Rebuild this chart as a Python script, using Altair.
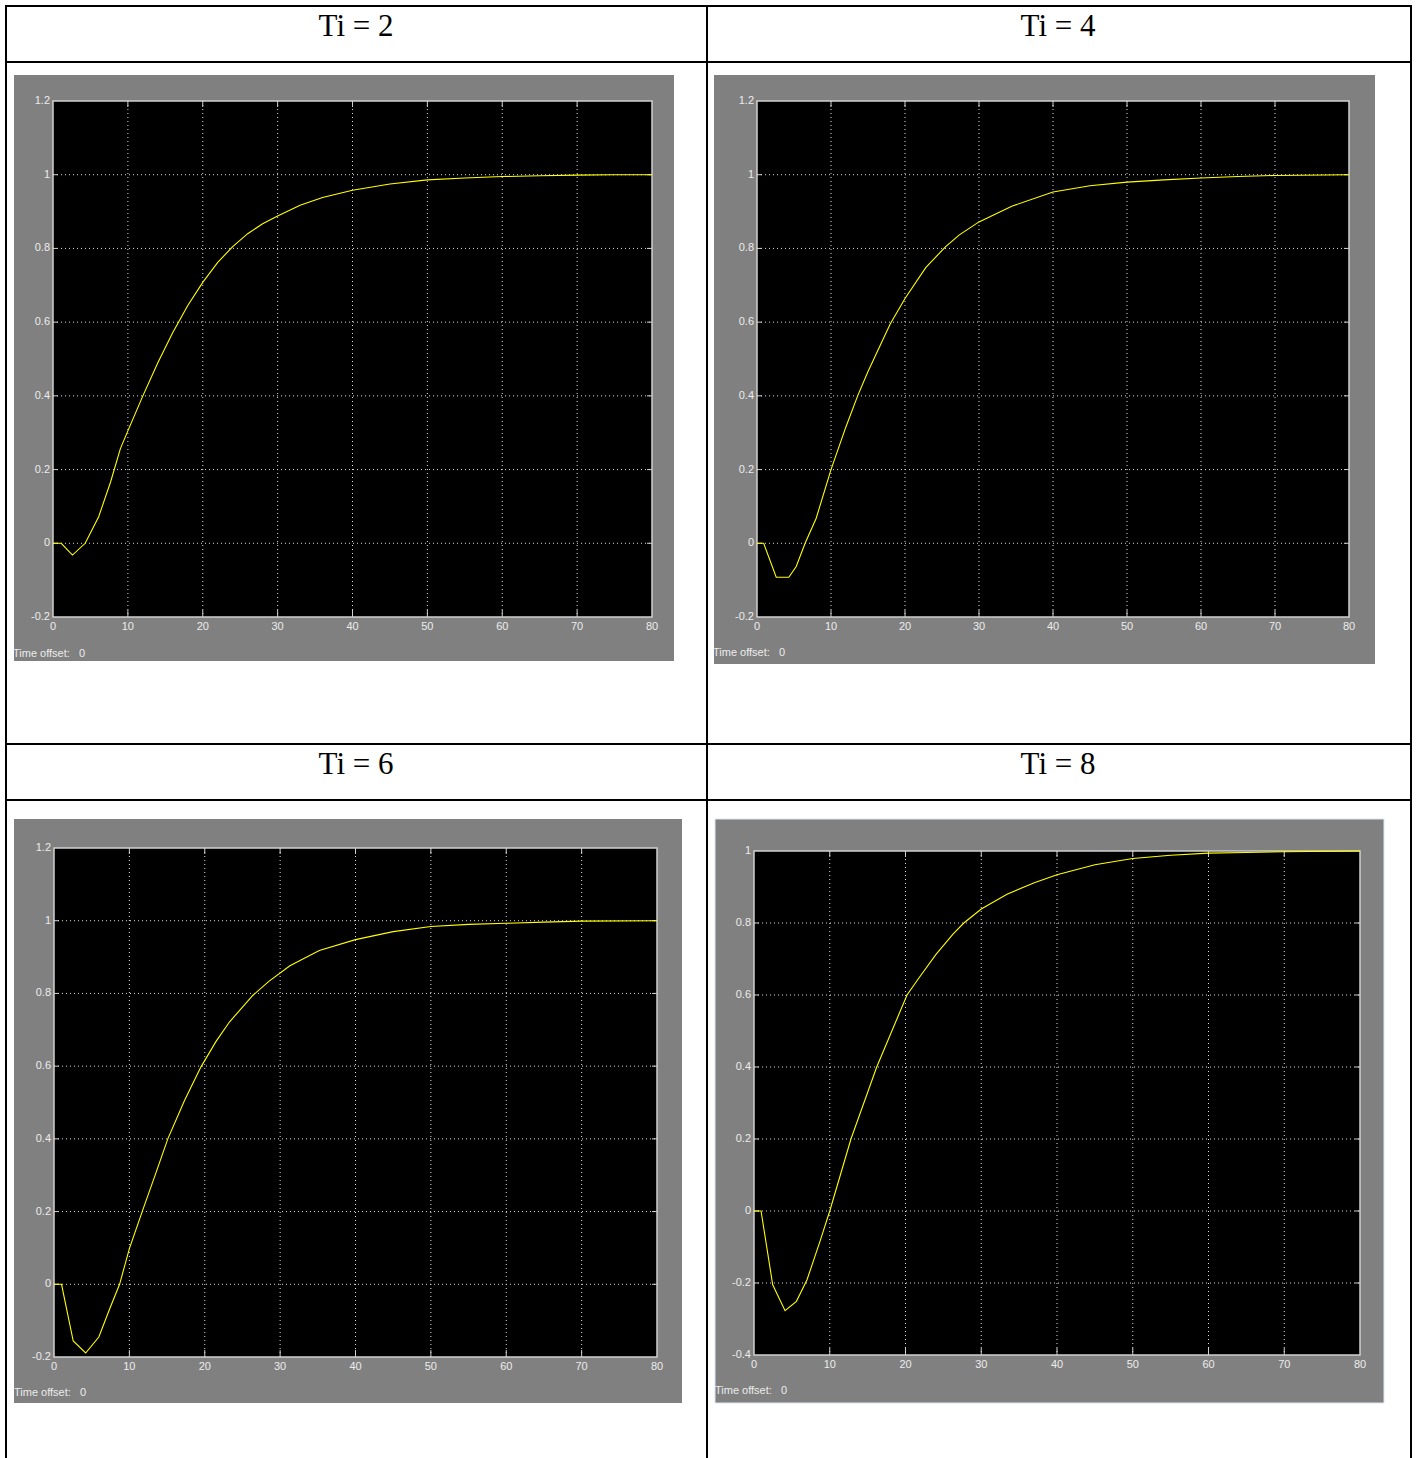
import altair as alt
import pandas as pd

# ---------------- data ----------------
titles = ["Ti = 2", "Ti = 4", "Ti = 6", "Ti = 8"]

t_ti2 = [0, 1.1, 2.6, 4.3, 6.1, 7.7, 9.0, 10, 12, 14, 16, 18, 20, 22, 24, 26, 28, 30, 33, 36, 40, 45, 50, 55, 60, 65, 70, 75, 80]
y_ti2 = [0, 0, -0.032, 0, 0.072, 0.167, 0.257, 0.305, 0.40, 0.49, 0.572, 0.645, 0.708, 0.762, 0.805, 0.84, 0.867, 0.888, 0.917, 0.938, 0.958, 0.975, 0.986, 0.991, 0.995, 0.997, 0.999, 1.0, 1.0]

t_ti4 = [0, 0.9, 2.6, 4.3, 5.3, 6.5, 8.0, 10, 12, 13.6, 15, 18, 20, 22.8, 25.5, 27.3, 30, 34.5, 40, 45, 50, 55, 60, 65, 70, 80]
y_ti4 = [0, 0, -0.092, -0.092, -0.063, 0, 0.068, 0.2, 0.315, 0.40, 0.466, 0.595, 0.664, 0.748, 0.805, 0.836, 0.872, 0.915, 0.953, 0.97, 0.98, 0.986, 0.991, 0.995, 0.998, 1.0]

t_ti6 = [0, 1.0, 2.55, 4.2, 5.95, 7.3, 8.7, 10, 11.7, 13.5, 15.1, 17.3, 19.5, 21.5, 23.3, 26.4, 28.5, 31.3, 35.2, 40, 45, 50, 55, 60, 65, 70, 80]
y_ti6 = [0, 0, -0.156, -0.189, -0.145, -0.072, 0, 0.098, 0.2, 0.305, 0.40, 0.505, 0.598, 0.668, 0.722, 0.795, 0.833, 0.876, 0.918, 0.948, 0.97, 0.984, 0.99, 0.993, 0.996, 0.999, 1.0]

t_ti8 = [0, 0.93, 2.47, 4.1, 5.6, 7.0, 8.7, 10, 12.8, 16.2, 20.2, 21.7, 24, 26.3, 27.7, 30, 33.4, 37, 40, 45, 50, 55, 60, 65, 70, 80]
y_ti8 = [0, 0, -0.205, -0.277, -0.251, -0.191, -0.085, 0, 0.2, 0.4, 0.6, 0.645, 0.712, 0.77, 0.80, 0.839, 0.88, 0.912, 0.934, 0.962, 0.979, 0.988, 0.994, 0.996, 0.998, 1.0]

x_ticks = [0, 10, 20, 30, 40, 50, 60, 70, 80]
x_tick_labels = ["0", "10", "20", "30", "40", "50", "60", "70", "80"]
y_ticks_a = [-0.2, 0, 0.2, 0.4, 0.6, 0.8, 1, 1.2]
y_tick_labels_a = ["-0.2", "0", "0.2", "0.4", "0.6", "0.8", "1", "1.2"]
y_ticks_b = [-0.4, -0.2, 0, 0.2, 0.4, 0.6, 0.8, 1]
y_tick_labels_b = ["-0.4", "-0.2", "0", "0.2", "0.4", "0.6", "0.8", "1"]
offset_label = "Time offset:\u00a0\u00a0\u00a00"

# ---------------- layout (pixels) ----------------
GRAY = "#808080"
LABEL = "#ececec"
GRID = "#dcdcdc"
FRAME = "#d0d0d0"
LFONT = "Liberation Sans"

one = pd.DataFrame({"k": [0]})


def fixed_rule(x0, x1, y0, y1, color="black", width=2):
    return alt.Chart(one).mark_rule(color=color, strokeWidth=width).encode(
        x=alt.value(x0), x2=alt.value(x1), y=alt.value(y0), y2=alt.value(y1)
    )


def panel(t, v, yt, ylabs, box, plot, ydom, off_xy, box_stroke=None):
    bx0, bx1, by0, by1 = box
    px0, px1, py0, py1 = plot
    xs = alt.Scale(domain=[0, 80], range=[px0, px1], nice=False, zero=False)
    ys = alt.Scale(domain=list(ydom), range=[py1, py0], nice=False, zero=False)

    rect_kw = dict(color=GRAY)
    if box_stroke:
        rect_kw.update(stroke=box_stroke, strokeWidth=1)
    gray = alt.Chart(one).mark_rect(**rect_kw).encode(
        x=alt.value(bx0), x2=alt.value(bx1), y=alt.value(by0), y2=alt.value(by1)
    )
    black = alt.Chart(one).mark_rect(color="black").encode(
        x=alt.value(px0), x2=alt.value(px1), y=alt.value(py0), y2=alt.value(py1)
    )

    xdf = pd.DataFrame({"t": x_ticks, "lab": x_tick_labels})
    ydf = pd.DataFrame({"v": yt, "lab": ylabs})
    xin = xdf.iloc[1:-1]
    yin = ydf.iloc[1:-1]

    X = alt.X("t:Q", scale=xs, axis=None)
    Y = alt.Y("v:Q", scale=ys, axis=None)

    vgrid = alt.Chart(xin).mark_rule(color=GRID, strokeDash=[1, 3], strokeWidth=1).encode(
        x=X, y=alt.value(py0), y2=alt.value(py1)
    )
    hgrid = alt.Chart(yin).mark_rule(color=GRID, strokeDash=[1, 3], strokeWidth=1).encode(
        y=Y, x=alt.value(px0), x2=alt.value(px1)
    )
    tick_top = alt.Chart(xin).mark_rule(color=FRAME, strokeWidth=1).encode(
        x=X, y=alt.value(py0), y2=alt.value(py0 + 6)
    )
    tick_bot = alt.Chart(xin).mark_rule(color=FRAME, strokeWidth=1).encode(
        x=X, y=alt.value(py1 - 7), y2=alt.value(py1)
    )
    tick_left = alt.Chart(yin).mark_rule(color=FRAME, strokeWidth=1).encode(
        y=Y, x=alt.value(px0), x2=alt.value(px0 + 5)
    )
    tick_right = alt.Chart(yin).mark_rule(color=FRAME, strokeWidth=1).encode(
        y=Y, x=alt.value(px1 - 5), x2=alt.value(px1)
    )
    frame = alt.Chart(one).mark_rect(fillOpacity=0, stroke=FRAME, strokeWidth=1.5).encode(
        x=alt.value(px0), x2=alt.value(px1), y=alt.value(py0), y2=alt.value(py1)
    )
    xlab = alt.Chart(xdf).mark_text(
        align="center", baseline="top", fontSize=11, font=LFONT, color=LABEL
    ).encode(x=X, y=alt.value(py1 + 4), text="lab:N")
    ylab = alt.Chart(ydf).mark_text(
        align="right", baseline="middle", fontSize=11, font=LFONT, color=LABEL
    ).encode(y=Y, x=alt.value(px0 - 3), text="lab:N")

    cdf = pd.DataFrame({"t": t, "v": v})
    curve = alt.Chart(cdf).mark_line(
        color="#ffff00", strokeWidth=1.1
    ).encode(x=X, y=Y, order=alt.Order("t:Q"))
    off = alt.Chart(one).mark_text(
        align="left", baseline="middle", fontSize=11, font=LFONT, color=LABEL
    ).encode(x=alt.value(off_xy[0]), y=alt.value(off_xy[1]), text=alt.value(offset_label))

    return alt.layer(gray, black, vgrid, hgrid, tick_top, tick_bot, tick_left,
                     tick_right, frame, curve, xlab, ylab, off)


p1 = panel(t_ti2, y_ti2, y_ticks_a, y_tick_labels_a, (14, 674, 75, 661),
           (53, 652, 101, 617), (-0.2, 1.2), (13, 654))
p2 = panel(t_ti4, y_ti4, y_ticks_a, y_tick_labels_a, (714, 1375, 75, 664),
           (757, 1349, 101, 617), (-0.2, 1.2), (713, 653))
p3 = panel(t_ti6, y_ti6, y_ticks_a, y_tick_labels_a, (14, 682, 819, 1403),
           (54, 657, 848, 1357), (-0.2, 1.2), (14, 1393))
p4 = panel(t_ti8, y_ti8, y_ticks_b, y_tick_labels_b, (715, 1384, 819, 1403),
           (754, 1360, 851, 1355), (-0.4, 1.0), (715, 1391), box_stroke="#dfe6ee")

# table borders
lines = [
    fixed_rule(5, 1412, 6, 6),
    fixed_rule(5, 1412, 62, 62),
    fixed_rule(5, 1412, 744, 744),
    fixed_rule(5, 1412, 800, 800),
    fixed_rule(6, 6, 5, 1458),
    fixed_rule(707, 707, 5, 1458),
    fixed_rule(1411, 1411, 5, 1458),
]

title_pos = [(356, 36), (1058, 36), (356, 774), (1058, 774)]
title_layers = [
    alt.Chart(one).mark_text(
        align="center", baseline="alphabetic", fontSize=31,
        font="Liberation Serif", color="black"
    ).encode(x=alt.value(px), y=alt.value(py), text=alt.value(tt))
    for tt, (px, py) in zip(titles, title_pos)
]

chart = alt.layer(*lines, *title_layers, p1, p2, p3, p4).resolve_scale(
    x="independent", y="independent"
).properties(
    width=1416, height=1458,
    autosize=alt.AutoSizeParams(type="none"),
    padding=0,
    background="white",
).configure_view(strokeWidth=0)

chart.save("out.html", embed_options={"renderer": "svg", "actions": False})
